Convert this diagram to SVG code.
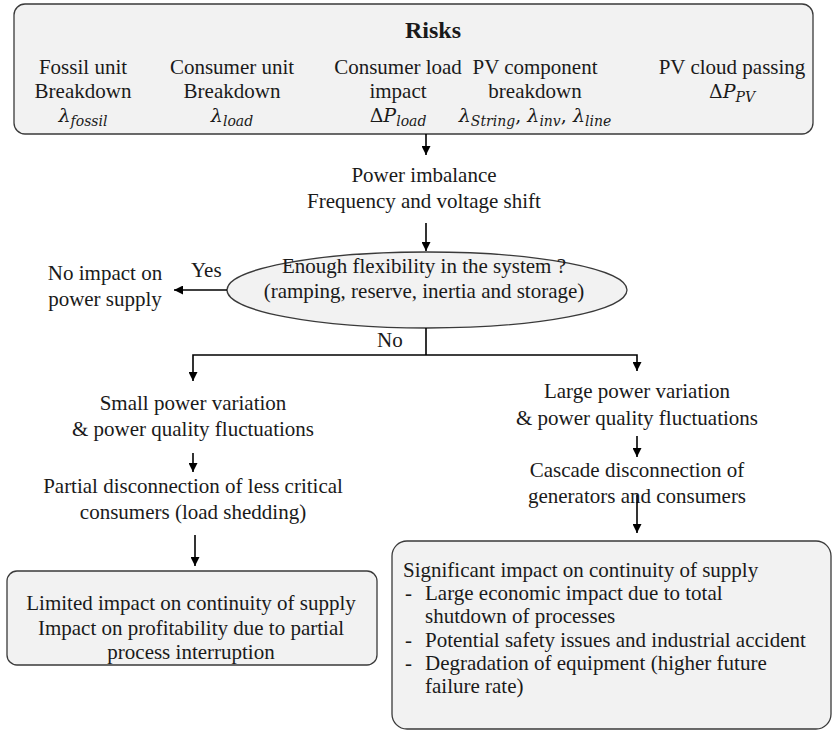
<svg xmlns="http://www.w3.org/2000/svg" width="834" height="731" viewBox="0 0 834 731">
<style>
.t{font-family:"Liberation Serif","Times New Roman",serif;font-size:21px;fill:#1a1a1a}
.c{text-anchor:middle}
.b{font-weight:bold;font-size:24px}
.m{font-family:"DejaVu Serif",serif;font-size:19px;font-style:italic;fill:#1a1a1a;text-anchor:middle}
.u{font-style:normal}
.s{font-size:14px}
.box{fill:#f2f2f2;stroke:#3a3a3a;stroke-width:1.3}
.ln{fill:none;stroke:#000;stroke-width:1.6}
.arr{marker-end:url(#ah)}
</style>
<defs>
<marker id="ah" viewBox="0 0 10 10" refX="10" refY="5" markerWidth="9" markerHeight="9" markerUnits="userSpaceOnUse" orient="auto">
<path d="M0,0 L10,5 L0,10 z" fill="#000"/>
</marker>
</defs>

<g id="risks">
<rect class="box" x="14" y="4" width="799" height="130" rx="11"/>
<text class="t c b" x="433" y="38">Risks</text>
<text class="t c" x="83" y="74">Fossil unit</text>
<text class="t c" x="83" y="98">Breakdown</text>
<text class="m" x="83" y="122">λ<tspan class="s" dy="4">fossil</tspan></text>
<text class="t c" x="232" y="74">Consumer unit</text>
<text class="t c" x="232" y="98">Breakdown</text>
<text class="m" x="232" y="122">λ<tspan class="s" dy="4">load</tspan></text>
<text class="t c" x="398" y="74">Consumer load</text>
<text class="t c" x="398" y="98">impact</text>
<text class="m" x="398" y="122"><tspan class="u">Δ</tspan>P<tspan class="s" dy="4">load</tspan></text>
<text class="t c" x="535" y="74">PV component</text>
<text class="t c" x="535" y="98">breakdown</text>
<text class="m" x="535" y="122">λ<tspan class="s" dy="4">String</tspan><tspan dy="-4" class="u">, </tspan>λ<tspan class="s" dy="4">inv</tspan><tspan dy="-4" class="u">, </tspan>λ<tspan class="s" dy="4">line</tspan></text>
<text class="t c" x="732" y="74">PV cloud passing</text>
<text class="m" x="732" y="98"><tspan class="u">Δ</tspan>P<tspan class="s" dy="4">PV</tspan></text>
</g>

<g id="imbalance">
<text class="t c" x="424" y="182">Power imbalance</text>
<text class="t c" x="424" y="208">Frequency and voltage shift</text>
</g>

<g id="flexibility">
<ellipse class="box" cx="427" cy="290" rx="200" ry="38"/>
<text class="t c" x="424" y="273">Enough flexibility in the system ?</text>
<text class="t c" x="424" y="298">(ramping, reserve, inertia and storage)</text>
</g>

<g id="noimpact">
<text class="t c" x="105" y="280">No impact on</text>
<text class="t c" x="105" y="306">power supply</text>
</g>

<g id="small">
<text class="t c" x="193" y="410">Small power variation</text>
<text class="t c" x="193" y="436">&amp; power quality fluctuations</text>
</g>

<g id="partial">
<text class="t c" x="193" y="493">Partial disconnection of less critical</text>
<text class="t c" x="193" y="519">consumers (load shedding)</text>
</g>

<g id="limited">
<rect class="box" x="7" y="571" width="370" height="94" rx="10"/>
<text class="t c" x="191" y="610">Limited impact on continuity of supply</text>
<text class="t c" x="191" y="635">Impact on profitability due to partial</text>
<text class="t c" x="191" y="659">process interruption</text>
</g>

<g id="large">
<text class="t c" x="637" y="398">Large power variation</text>
<text class="t c" x="637" y="425">&amp; power quality fluctuations</text>
</g>

<g id="cascade">
<text class="t c" x="637" y="477">Cascade disconnection of</text>
<text class="t c" x="637" y="503">generators and consumers</text>
</g>

<g id="significant">
<rect class="box" x="392" y="541" width="439" height="188" rx="15"/>
<text class="t" x="403" y="577">Significant impact on continuity of supply</text>
<text class="t" x="405" y="600">-</text><text class="t" x="425" y="600">Large economic impact due to total</text>
<text class="t" x="425" y="623">shutdown of processes</text>
<text class="t" x="405" y="647">-</text><text class="t" x="425" y="647">Potential safety  issues and industrial accident</text>
<text class="t" x="405" y="670">-</text><text class="t" x="425" y="670">Degradation of equipment (higher future</text>
<text class="t" x="425" y="693">failure rate)</text>
</g>

<g id="connectors">
<line class="ln arr" x1="426" y1="134" x2="426" y2="155"/>
<line class="ln arr" x1="426" y1="223" x2="426" y2="251"/>
<line class="ln arr" x1="227" y1="290" x2="174" y2="290"/>
<text class="t" x="191" y="277">Yes</text>
<line class="ln" x1="426" y1="328" x2="426" y2="355"/>
<text class="t" x="377" y="347">No</text>
<polyline class="ln arr" points="426,355 193,355 193,381"/>
<polyline class="ln arr" points="426,355 637,355 637,371"/>
<line class="ln arr" x1="193" y1="453" x2="193" y2="472"/>
<line class="ln arr" x1="195" y1="535" x2="195" y2="566"/>
<line class="ln arr" x1="637" y1="436" x2="637" y2="457"/>
<line class="ln arr" x1="637" y1="495" x2="637" y2="533"/>
</g>
</svg>
